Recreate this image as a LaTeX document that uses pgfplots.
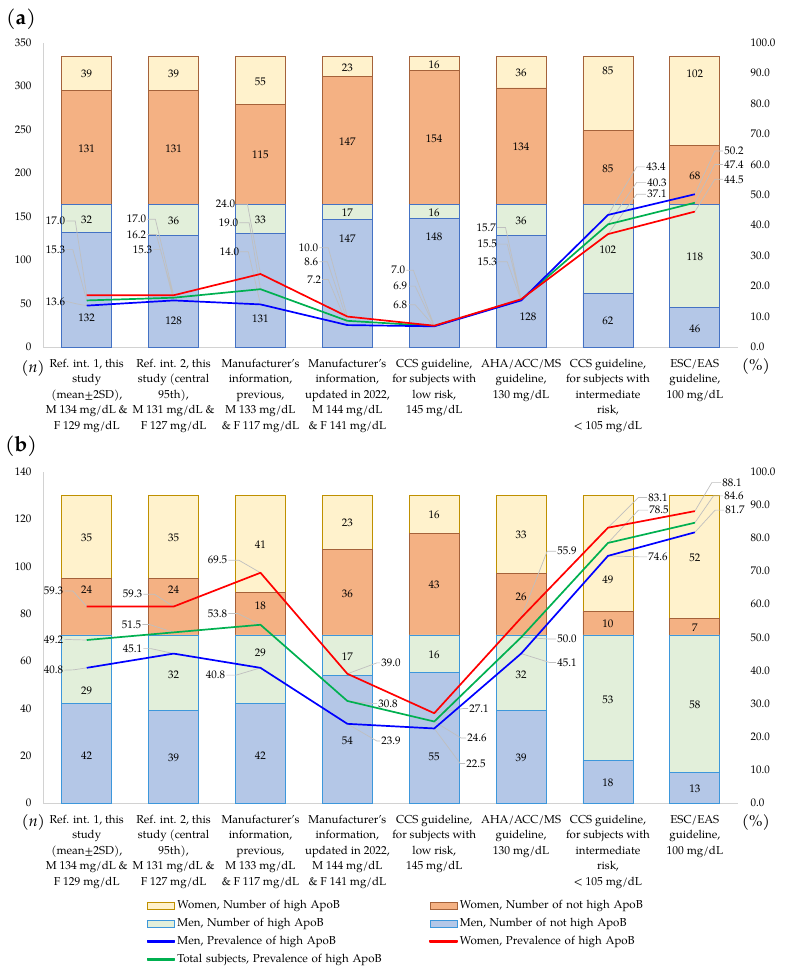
\documentclass[border=0pt]{standalone}
\usepackage{pgfplots}
\pgfplotsset{compat=1.18}
\usepackage{fontspec}
\setmainfont{TeX Gyre Pagella}

\definecolor{fBlue}{HTML}{B4C7E7}
\definecolor{fGreen}{HTML}{E2EFDA}
\definecolor{fOrange}{HTML}{F4B183}
\definecolor{fYellow}{HTML}{FFF2CC}
\definecolor{eBlueA}{HTML}{4472C4}
\definecolor{eBlueB}{HTML}{3D97DB}
\definecolor{eBrown}{HTML}{A5623A}
\definecolor{eGold}{HTML}{BF9000}
\definecolor{lBlue}{HTML}{0000FF}
\definecolor{lRed}{HTML}{FF0000}
\definecolor{lGreen}{HTML}{00B050}
\definecolor{leader}{HTML}{BFBFBF}

\newcommand{\tfont}{\fontsize{11}{13}\selectfont}
\newcommand{\cfont}{\fontsize{11.5}{15.4}\selectfont}
\newcommand{\lfont}{\fontsize{11.5}{13}\selectfont}

\pgfplotsset{
  base/.style={scale only axis, width=695pt, xmin=-0.5, xmax=7.5, clip=false,
    enlargelimits=false, /pgf/number format/assume math mode=true,
    major tick length=0pt, tick style={draw=none}},
  barax/.style={base, ybar stacked, bar width=50pt, ymin=0,
    axis x line*=bottom, axis y line*=left,
    axis line style={-, draw=gray!35, line width=0.8pt},
    xtick={0,...,7},
    xticklabels={{Ref. int. 1, this\\study\\(mean±2SD),\\M 134 mg/dL \&\\F 129 mg/dL},
      {Ref. int. 2, this\\study (central\\95th),\\M 131 mg/dL \&\\F 127 mg/dL},
      {Manufacturer’s\\information,\\previous,\\M 133 mg/dL\\\& F 117 mg/dL},
      {Manufacturer’s\\information,\\updated in 2022,\\M 144 mg/dL\\\& F 141 mg/dL},
      {CCS guideline,\\for subjects with\\low risk,\\145 mg/dL},
      {AHA/ACC/MS\\guideline,\\130 mg/dL},
      {CCS guideline,\\for subjects with\\intermediate\\risk,\\< 105 mg/dL},
      {ESC/EAS\\guideline,\\100 mg/dL}},
    xticklabel style={anchor=north, inner sep=0pt, yshift=-12pt, align=center, font=\cfont},
    yticklabel style={anchor=east, inner sep=0pt, xshift=-11.6pt, font=\tfont}},
  labax/.style={base, hide axis, ymin=0},
  lineax/.style={base, ymin=0, ymax=100, axis y line*=right, axis x line=none,
    y axis line style={draw=none}, xtick=\empty,
    ytick={0,10,...,100},
    yticklabel style={anchor=west, inner sep=0pt, xshift=12pt, font=\tfont,
      /pgf/number format/fixed, /pgf/number format/fixed zerofill,
      /pgf/number format/precision=1}},
  barlab/.style={draw=none, no markers, nodes near coords, point meta=explicit symbolic,
    every node near coord/.append style={anchor=center, inner sep=0pt, font=\tfont, text=black}},
  linelab/.style={draw=none, no markers, nodes near coords, point meta=explicit symbolic,
    visualization depends on={value \thisrow{a} \as \anch},
    every node near coord/.append style={anchor=\anch, inner sep=0pt, font=\tfont, text=black}},
  leaderline/.style={draw=leader, line width=0.7pt, no markers, unbounded coords=jump, forget plot},
  prevline/.style={line width=1.7pt, no markers, line join=round},
  prev/.style={prevline, forget plot},
  sq legend/.style={legend image code/.code={\path[##1] (0pt,-3.5pt) rectangle (27pt,3.5pt);}},
}

\begin{document}
\begin{tikzpicture}
\path[use as bounding box] (0pt,0pt) rectangle (785pt,-973pt);

% ================= Panel (a) =================
\begin{axis}[barax, at={(43.3pt,-347pt)}, anchor=south west, height=304.3pt,
  ymax=350, ytick={0,50,...,350}]
\addplot[fill=fBlue, draw=eBlueA, line width=0.8pt] coordinates {(0,132)(1,128)(2,131)(3,147)(4,148)(5,128)(6,62)(7,46)};
\addplot[fill=fGreen, draw=eBlueA, line width=0.8pt] coordinates {(0,32)(1,36)(2,33)(3,17)(4,16)(5,36)(6,102)(7,118)};
\addplot[fill=fOrange, draw=eBrown, line width=0.8pt] coordinates {(0,131)(1,131)(2,115)(3,147)(4,154)(5,134)(6,85)(7,68)};
\addplot[fill=fYellow, draw=eBrown, line width=0.8pt] coordinates {(0,39)(1,39)(2,55)(3,23)(4,16)(5,36)(6,85)(7,102)};
\end{axis}

\begin{axis}[labax, at={(43.3pt,-347pt)}, anchor=south west, height=304.3pt, ymax=350]
\addplot[barlab] table[meta=t] {
x y t
0 314 39
0 228.4 131
0 146.7 32
0 33.4 132
1 314 39
1 228.4 131
1 144.7 36
1 30.7 128
2 305.1 55
2 220.7 115
2 145.9 33
2 32.7 131
3 321.2 23
3 236 147
3 154.7 17
3 124 147
4 325.1 16
4 239.9 154
4 154.7 16
4 126.6 148
5 315.5 36
5 230.3 134
5 144.7 36
5.08 34.5 128
6 317.8 85
6 205.4 85
6 112.1 102
6 29.6 62
7 314.8 102
7 196.5 68
7 103.6 118
7 21.2 46
};
\end{axis}

\begin{axis}[lineax, at={(43.3pt,-347pt)}, anchor=south west, height=304.3pt]
\addplot[leaderline] table {
x y
-0.235 41.4
-0.132 41.4
0 17.0
nan nan
-0.235 32.0
-0.160 32.0
0 15.3
nan nan
-0.235 15.0
-0.120 14.2
0 13.6
nan nan
0.697 42.0
0.790 42.0
1 17.0
nan nan
0.697 37.0
0.800 37.0
1 16.2
nan nan
0.766 32.0
0.850 32.0
1 15.3
nan nan
1.721 46.9
1.850 46.9
2 24.0
nan nan
1.756 40.8
1.870 40.8
2 19.0
nan nan
1.767 31.3
1.860 31.3
2 14.0
nan nan
2.677 32.6
2.780 32.6
3 10.0
nan nan
2.677 28.0
2.770 28.0
3 8.6
nan nan
2.711 22.2
2.780 22.2
3 7.2
nan nan
3.678 25.2
3.760 25.2
4 7.0
nan nan
3.701 20.0
3.780 20.0
4 6.9
nan nan
3.701 13.9
3.780 13.9
4 6.8
nan nan
4.725 39.3
4.820 39.3
5 15.7
nan nan
4.736 33.8
4.840 33.8
5 15.5
nan nan
4.736 28.0
4.840 28.0
5 15.3
nan nan
6.427 59.2
6.330 59.2
6 43.4
nan nan
6.438 54.1
6.330 54.1
6 40.3
nan nan
6.438 50.2
6.330 50.2
6 37.1
nan nan
7.325 64.4
7.230 64.4
7 50.2
nan nan
7.325 60.0
7.230 60.0
7 47.4
nan nan
7.325 55.1
7.230 55.1
7 44.5
};
\addplot[prev, lGreen] coordinates {(0,15.3)(1,16.2)(2,19.0)(3,8.6)(4,6.9)(5,15.5)(6,40.3)(7,47.4)};
\addplot[prev, lBlue] coordinates {(0,13.6)(1,15.3)(2,14.0)(3,7.2)(4,6.8)(5,15.3)(6,43.4)(7,50.2)};
\addplot[prev, lRed] coordinates {(0,17.0)(1,17.0)(2,24.0)(3,10.0)(4,7.0)(5,15.7)(6,37.1)(7,44.5)};
\addplot[linelab, forget plot] table[meta=t] {
x y t a
-0.247 41.4 17.0 east
-0.247 32.0 15.3 east
-0.247 15.0 13.6 east
0.685 42.0 17.0 east
0.685 37.0 16.2 east
0.754 32.0 15.3 east
1.709 46.9 24.0 east
1.744 40.8 19.0 east
1.755 31.3 14.0 east
2.665 32.6 10.0 east
2.665 28.0 8.6 east
2.699 22.2 7.2 east
3.666 25.2 7.0 east
3.689 20.0 6.9 east
3.689 13.9 6.8 east
4.713 39.3 15.7 east
4.724 33.8 15.5 east
4.724 28.0 15.3 east
6.439 59.2 43.4 west
6.450 54.1 40.3 west
6.450 50.2 37.1 west
7.337 64.4 50.2 west
7.337 60.0 47.4 west
7.337 55.1 44.5 west
};
\end{axis}

% ================= Panel (b) =================
\begin{axis}[barax, at={(43.3pt,-803pt)}, anchor=south west, height=331.3pt,
  ymax=140, ytick={0,20,...,140}]
\addplot[fill=fBlue, draw=eBlueB, line width=0.8pt] coordinates {(0,42)(1,39)(2,42)(3,54)(4,55)(5,39)(6,18)(7,13)};
\addplot[fill=fGreen, draw=eBlueB, line width=0.8pt] coordinates {(0,29)(1,32)(2,29)(3,17)(4,16)(5,32)(6,53)(7,58)};
\addplot[fill=fOrange, draw=eBrown, line width=0.8pt] coordinates {(0,24)(1,24)(2,18)(3,36)(4,43)(5,26)(6,10)(7,7)};
\addplot[fill=fYellow, draw=eGold, line width=0.8pt] coordinates {(0,35)(1,35)(2,41)(3,23)(4,16)(5,33)(6,49)(7,52)};
\end{axis}

\begin{axis}[labax, at={(43.3pt,-803pt)}, anchor=south west, height=331.3pt, ymax=140]
\addplot[barlab] table[meta=t] {
x y t
0 112.1 35
0 90.0 24
0 47.4 29
0 20.2 42
1 112.1 35
1 90.0 24
1 54.3 32
1 19.0 39
2 109.0 41
2 83.2 18
2 63.4 29
2 20.2 42
3 118.2 23
3 88.6 36
3 62.0 17
3 26.1 54
4 121.7 16
4 92.1 43
4 62.5 16
4 19.5 55
5 113.2 33
5 87.1 26
5 54.3 32
5 19.0 39
6 94.2 49
6 75.6 10
6 43.7 53
6 8.5 18
7 103.6 52
7 74.0 7
7 41.3 58
7 6.1 13
};
\end{axis}

\begin{axis}[lineax, at={(43.3pt,-803pt)}, anchor=south west, height=331.3pt,
  legend columns=2, legend cell align=left,
  legend style={at={(axis description cs:0.1488,-0.294)}, anchor=north west,
    draw=none, fill=none, inner sep=0pt, outer sep=0pt, row sep=7.4pt, column sep=0pt,
    font=\lfont,
    nodes={font=\lfont, inner xsep=2pt, inner ysep=0pt, text height=8pt, text depth=2.5pt,
      text width=249.8pt, align=left}}]
\addplot[leaderline] table {
x y
-0.258 64.0
-0.160 64.0
0 59.3
nan nan
-0.258 49.4
-0.150 49.3
0 49.2
nan nan
-0.258 40.1
-0.150 40.2
0 40.8
nan nan
0.651 63.0
0.780 63.0
1 59.3
nan nan
0.640 53.9
0.720 53.9
1 51.5
nan nan
0.651 46.6
0.740 46.6
1 45.1
nan nan
1.629 73.3
1.750 73.3
2 69.5
nan nan
1.629 57.2
1.740 57.2
2 53.8
nan nan
1.606 38.6
1.720 38.6
2 40.8
nan nan
3.378 42.3
3.340 42.3
3 39.0
nan nan
3.343 30.0
3.300 30.0
3 30.8
nan nan
3.378 18.7
3.340 18.7
3 23.9
nan nan
4.390 28.5
4.330 28.5
4 27.1
nan nan
4.367 19.6
4.310 19.6
4 24.6
nan nan
4.356 11.9
4.300 11.9
4 22.5
nan nan
5.403 76.0
5.300 76.0
5 55.9
nan nan
5.403 49.5
5.330 49.5
5 50.0
nan nan
5.403 42.4
5.330 42.4
5 45.1
nan nan
6.450 92.2
6.350 92.2
6 83.1
nan nan
6.463 88.4
6.350 88.4
6 78.5
nan nan
6.450 74.3
6.350 74.3
6 74.6
nan nan
7.302 96.7
7.195 96.7
7 88.1
nan nan
7.325 92.7
7.214 92.7
7 84.6
nan nan
7.338 88.4
7.233 88.4
7 81.7
};
\addlegendimage{sq legend, fill=fYellow, draw=eGold, line width=0.8pt}
\addlegendimage{sq legend, fill=fOrange, draw=eBrown, line width=0.8pt}
\addlegendimage{sq legend, fill=fGreen, draw=eBlueB, line width=0.8pt}
\addlegendimage{sq legend, fill=fBlue, draw=eBlueB, line width=0.8pt}
\addplot[prevline, lBlue, legend image code/.code={\fill[lBlue] (0pt,-0.85pt) rectangle (27pt,0.85pt);}]
  coordinates {(0,40.8)(1,45.1)(2,40.8)(3,23.9)(4,22.5)(5,45.1)(6,74.6)(7,81.7)};
\addplot[prevline, lRed, legend image code/.code={\fill[lRed] (0pt,-0.85pt) rectangle (27pt,0.85pt);}]
  coordinates {(0,59.3)(1,59.3)(2,69.5)(3,39.0)(4,27.1)(5,55.9)(6,83.1)(7,88.1)};
\addplot[prevline, lGreen, legend image code/.code={\fill[lGreen] (0pt,-0.85pt) rectangle (27pt,0.85pt);}]
  coordinates {(0,49.2)(1,51.5)(2,53.8)(3,30.8)(4,24.6)(5,50.0)(6,78.5)(7,84.6)};
\legend{{Women, Number of high ApoB},{Women, Number of not high ApoB},
  {Men, Number of high ApoB},{Men, Number of not high ApoB},
  {Men, Prevalence of high ApoB},{Women, Prevalence of high ApoB},
  {Total subjects, Prevalence of high ApoB}}
\addplot[linelab, forget plot] table[meta=t] {
x y t a
-0.270 64.0 59.3 east
-0.270 49.4 49.2 east
-0.270 40.1 40.8 east
0.639 63.0 59.3 east
0.628 53.9 51.5 east
0.639 46.6 45.1 east
1.617 73.3 69.5 east
1.617 57.2 53.8 east
1.594 38.6 40.8 east
3.390 42.3 39.0 west
3.355 30.0 30.8 west
3.390 18.7 23.9 west
4.402 28.5 27.1 west
4.379 19.6 24.6 west
4.368 11.9 22.5 west
5.415 76.0 55.9 west
5.415 49.5 50.0 west
5.415 42.4 45.1 west
6.462 92.2 83.1 west
6.475 88.4 78.5 west
6.462 74.3 74.6 west
7.314 96.7 88.1 west
7.337 92.7 84.6 west
7.350 88.4 81.7 west
};
\end{axis}

% panel letters and unit markers
\node[font=\fontsize{21}{23}\selectfont] at (21pt,-19pt) {(\textbf{a})};
\node[font=\fontsize{21}{23}\selectfont] at (21pt,-446.5pt) {(\textbf{b})};
\node[font=\fontsize{16}{18}\selectfont] at (33pt,-368pt) {(\textit{n})};
\node[font=\fontsize{16}{18}\selectfont] at (755.8pt,-366pt) {(\%)};
\node[font=\fontsize{16}{18}\selectfont] at (33.3pt,-822pt) {(\textit{n})};
\node[font=\fontsize{16}{18}\selectfont] at (755.8pt,-822pt) {(\%)};
\end{tikzpicture}
\end{document}
